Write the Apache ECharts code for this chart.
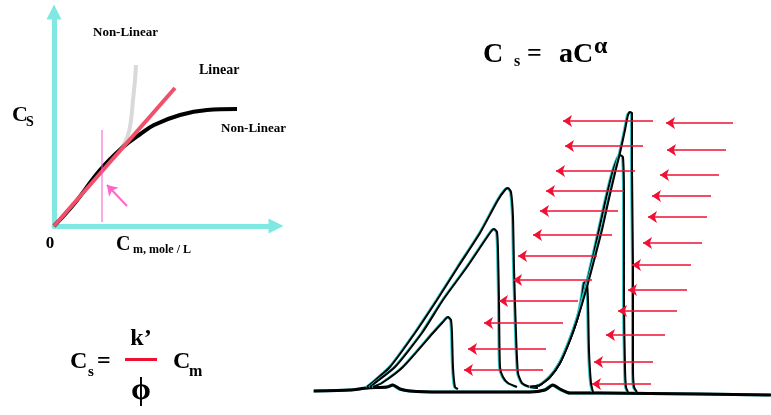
<!DOCTYPE html>
<html>
<head>
<meta charset="utf-8">
<script src="https://cdn.jsdelivr.net/npm/echarts@6/dist/echarts.min.js"></script>
<style>
html, body { margin: 0; padding: 0; background: #fff; }
#main { width: 771px; height: 415px; }
</style>
</head>
<body>
<div id="main"></div>
<script>
// 左图：等温线 (x = Cm, y = Cs，任意单位)
var linearLine = [[0, 0], [121, 138]];
var convexCurve = [[0, 0], [20, 22], [46, 56], [69, 79], [85, 91], [100, 101], [126, 111], [153, 116], [183, 117]];
var concaveCurve = [[64, 74], [69, 80], [74, 91], [77, 106], [79, 126], [81, 146], [82, 161]];
var markerLine = [[48, 4], [48, 96]];
var pinkArrow = [[73, 20], [53, 41]];

// 右图：色谱峰 (x = 时间, y = 信号，任意单位)
var baseline = [[14, 9], [50, 10], [67, 12], [87, 13], [93, 15], [100, 11], [110, 9], [140, 8], [230, 8], [245, 10], [253, 15], [260, 11], [270, 7], [300, 7], [400, 6], [471, 5]];
var peakA = [[67, 13], [72, 17], [90, 33], [115, 67], [137, 100], [158, 133], [180, 167], [198, 200], [205, 210], [208, 212], [211, 208], [213, 183], [214, 133], [216, 67], [218, 27], [222, 17], [230, 13], [238, 12]];
var peakB = [[70, 13], [75, 17], [95, 33], [122, 67], [143, 100], [167, 133], [190, 167], [194, 171], [197, 168], [198, 150], [199, 100], [200, 33], [203, 23], [208, 17], [217, 13]];
var peakC = [[73, 13], [82, 17], [103, 33], [133, 67], [143, 78], [148, 83], [151, 80], [152, 67], [153, 33], [155, 13], [158, 11]];
var peakD = [[230, 13], [240, 15], [250, 23], [260, 37], [270, 60], [278, 83], [282, 103], [284, 117], [286, 118], [287, 117], [288, 100], [289, 50], [291, 17], [293, 8]];
var peakE = [[230, 13], [240, 15], [250, 23], [260, 37], [270, 60], [278, 83], [286, 113], [293, 143], [299, 170], [305, 197], [311, 222], [316, 238], [320, 245], [323, 243], [324, 200], [324, 100], [325, 33], [326, 13], [328, 8]];
var peakF = [[230, 13], [240, 15], [250, 23], [260, 37], [270, 60], [278, 83], [287, 113], [295, 143], [302, 170], [308, 197], [315, 227], [320, 247], [325, 270], [328, 285], [330, 288], [332, 287], [332, 233], [333, 133], [333, 33], [334, 13], [337, 8]];

// 红色箭头：[尾, 头, 高度]
var arrowsLeft = [[353, 263, 279], [343, 265, 254], [335, 256, 229], [324, 246, 209], [318, 240, 189], [312, 233, 165], [297, 218, 144], [292, 213, 120], [278, 199, 99], [263, 184, 77], [246, 168, 51], [243, 164, 30]];
var arrowsRight = [[433, 366, 277], [426, 367, 250], [419, 360, 225], [411, 352, 204], [407, 348, 183], [402, 343, 157], [391, 332, 135], [387, 328, 110], [377, 318, 89], [365, 306, 65], [353, 294, 38], [351, 292, 16]];

var serif = '"Liberation Serif", "DejaVu Serif", serif';
var cyan = '#80e8e2';

function arrowData(list) {
	var out = [];
	for(var i = 0; i < list.length; i++) {
		out.push({ coords: [[list[i][0], list[i][2]], [list[i][1], list[i][2]]] });
	}
	return out;
}

function trace(name, data, width) {
	return {
		name: name,
		type: 'line',
		xAxisIndex: 1,
		yAxisIndex: 1,
		data: data,
		symbol: 'none',
		smooth: 0.2,
		lineStyle: {
			color: '#000',
			width: width,
			shadowColor: '#30c8c8',
			shadowBlur: 0,
			shadowOffsetX: -1
		},
		z: 3
	};
}

function txt(x, y, s, size, color, align) {
	return {
		type: 'text',
		x: x,
		y: y,
		style: {
			text: s,
			font: 'bold ' + size + 'px ' + serif,
			fill: color || '#000',
			textAlign: align || 'left',
			textVerticalAlign: 'middle'
		}
	};
}

var chart = echarts.init(document.getElementById('main'));

var option = {
	animation: false,
	backgroundColor: '#fff',
	grid: [
		{ left: 54, top: 12, width: 222, height: 214 },
		{ left: 300, top: 100, width: 471, height: 300 }
	],
	xAxis: [{
		gridIndex: 0,
		type: 'value',
		min: 0,
		max: 222,
		axisLine: {
			show: true,
			symbol: ['none', 'triangle'],
			symbolSize: [15, 15],
			lineStyle: { color: cyan, width: 5 }
		},
		axisTick: { show: false },
		axisLabel: { show: false },
		splitLine: { show: false }
	}, {
		gridIndex: 1,
		type: 'value',
		min: 0,
		max: 471,
		show: false
	}],
	yAxis: [{
		gridIndex: 0,
		type: 'value',
		min: 0,
		max: 214,
		axisLine: {
			show: true,
			symbol: ['none', 'triangle'],
			symbolSize: [15, 15],
			lineStyle: { color: cyan, width: 5 }
		},
		axisTick: { show: false },
		axisLabel: { show: false },
		splitLine: { show: false }
	}, {
		gridIndex: 1,
		type: 'value',
		min: 0,
		max: 300,
		show: false
	}],
	series: [
		{
			type: 'line',
			data: concaveCurve,
			symbol: 'none',
			smooth: true,
			lineStyle: { color: '#d9d9d9', width: 4 },
			z: 2
		},
		{
			type: 'line',
			data: convexCurve,
			symbol: 'none',
			smooth: 0.4,
			lineStyle: { color: '#000', width: 4 },
			z: 3
		},
		{
			type: 'line',
			data: linearLine,
			symbol: 'none',
			lineStyle: { color: '#f0506a', width: 4 },
			z: 4
		},
		{
			type: 'line',
			data: markerLine,
			symbol: 'none',
			lineStyle: { color: '#ff55cc', width: 1 },
			z: 4
		},
		{
			type: 'lines',
			coordinateSystem: 'cartesian2d',
			data: [{ coords: pinkArrow }],
			symbol: ['none', 'arrow'],
			symbolSize: 10,
			lineStyle: { color: '#ff66cc', width: 2, opacity: 1 },
			z: 4
		},
		trace('base', baseline, 3),
		trace('A', peakA, 2),
		trace('B', peakB, 2),
		trace('C', peakC, 2),
		trace('D', peakD, 2),
		trace('E', peakE, 2),
		trace('F', peakF, 2),
		{
			type: 'lines',
			coordinateSystem: 'cartesian2d',
			xAxisIndex: 1,
			yAxisIndex: 1,
			data: arrowData(arrowsLeft).concat(arrowData(arrowsRight)),
			symbol: ['none', 'arrow'],
			symbolSize: 9,
			lineStyle: { color: '#ee1133', width: 1.5, opacity: 1 },
			z: 5
		}
	],
	graphic: [
		txt(93, 33, 'Non-Linear', 13),
		txt(199, 70, 'Linear', 14),
		txt(221, 129, 'Non-Linear', 13),
		txt(12, 115, 'C', 22),
		txt(26, 122, 'S', 14),
		txt(50, 244, '0', 17, '#000', 'center'),
		txt(116, 245, 'C', 20),
		txt(133, 250, 'm, mole / L', 12),
		// Cs = k'/phi Cm
		txt(70, 362, 'C', 24),
		txt(88, 372, 's', 15),
		txt(97, 362, '=', 24),
		txt(141, 339, 'k\u2019', 24, '#000', 'center'),
		{
			type: 'rect',
			shape: { x: 125, y: 358, width: 32, height: 3 },
			style: { fill: '#ee1133' }
		},
		txt(141, 391, '\u03D5', 32, '#000', 'center'),
		txt(173, 362, 'C', 24),
		txt(189, 372, 'm', 16),
		// Cs = aC^alpha
		txt(483, 55, 'C', 28),
		txt(514, 62, 's', 16),
		txt(527, 54, '=', 26),
		txt(559, 55, 'aC', 28),
		txt(594, 47, '\u03B1', 24)
	]
};

chart.setOption(option);
</script>
</body>
</html>
